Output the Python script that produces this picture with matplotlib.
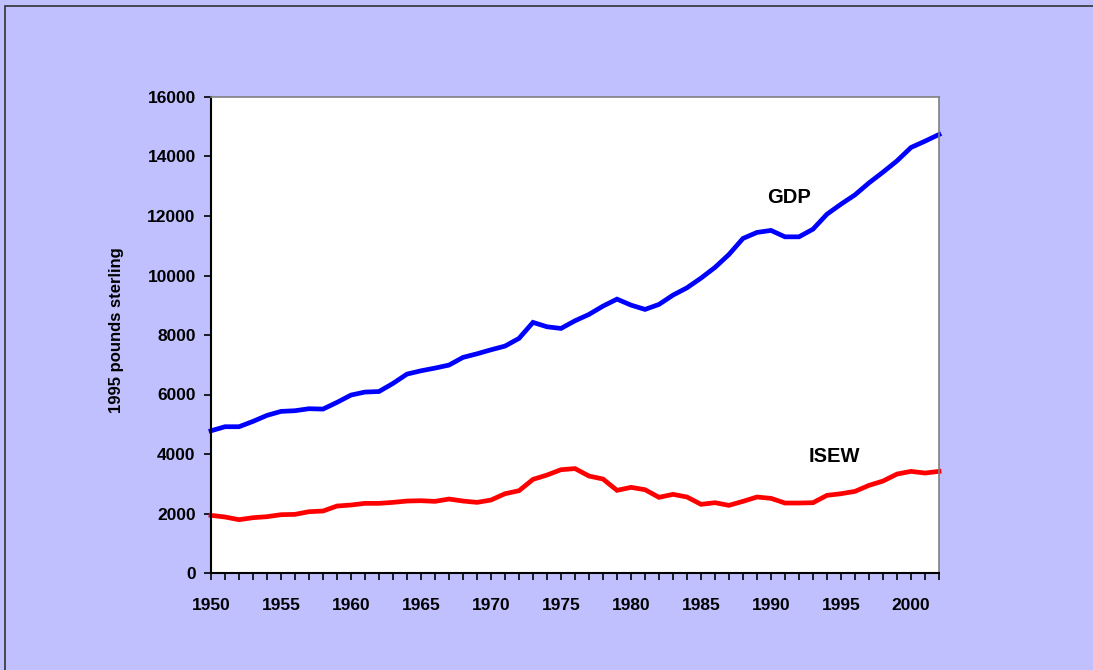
import matplotlib
matplotlib.use("Agg")
import matplotlib.pyplot as plt
from matplotlib.patches import Rectangle

years = list(range(1950, 2003))
gdp = [4780, 4917, 4917, 5096, 5298, 5432, 5455, 5522, 5510, 5735,
       5981, 6082, 6100, 6373, 6686, 6797, 6888, 6989, 7247, 7368,
       7503, 7627, 7886, 8424, 8276, 8221, 8478, 8692, 8971, 9206,
       9005, 8860, 9028, 9341, 9587, 9912, 10272, 10709, 11246, 11448,
       11515, 11300, 11300, 11558, 12062, 12398, 12711, 13114, 13474, 13853,
       14303, 14515, 14740]
isew = [1938, 1882, 1792, 1859, 1893, 1960, 1971, 2061, 2083, 2251,
        2285, 2341, 2341, 2374, 2419, 2430, 2408, 2486, 2419, 2374,
        2453, 2665, 2766, 3147, 3293, 3472, 3510, 3259, 3158, 2778,
        2879, 2800, 2543, 2644, 2554, 2308, 2363, 2274, 2409, 2554,
        2509, 2352, 2352, 2363, 2610, 2665, 2744, 2946, 3091, 3326,
        3416, 3360, 3416]
y_ticks = [0, 2000, 4000, 6000, 8000, 10000, 12000, 14000, 16000]
x_labels = [1950, 1955, 1960, 1965, 1970, 1975, 1980, 1985, 1990, 1995, 2000]

plt.rcParams['font.family'] = ['Liberation Sans', 'DejaVu Sans']
plt.rcParams['font.weight'] = 'bold'

bg = '#C0C0FF'
fig = plt.figure(figsize=(10.93, 6.70), dpi=100, facecolor=bg)
fig.patches.append(Rectangle((5/1093, -0.1), 1.2, 1 - 6/670 + 0.1,
                             transform=fig.transFigure, fill=False,
                             edgecolor='#333333', linewidth=1.2))

ax = fig.add_axes([211/1093, 1 - 573/670, 728/1093, 476/670])
ax.set_facecolor('white')
ax.plot(years, gdp, color='#0000FF', lw=3.4, clip_on=False, solid_joinstyle='miter')
ax.plot(years, isew, color='#FF0000', lw=3.4, clip_on=False, solid_joinstyle='miter')

ax.set_xlim(1950, 2002)
ax.set_ylim(0, 16000)
ax.set_yticks(y_ticks)
ax.set_yticklabels([str(v) for v in y_ticks])
ax.set_xticks(years)
ax.set_xticklabels([str(y) if y in x_labels else '' for y in years])
ax.tick_params(axis='both', direction='out', length=5, width=1.2,
               labelsize=12.5, colors='black')
ax.tick_params(axis='y', pad=6)
ax.tick_params(axis='x', pad=13)
for lab in ax.get_xticklabels() + ax.get_yticklabels():
    lab.set_fontweight('bold')

ax.spines['left'].set_color('black')
ax.spines['bottom'].set_color('black')
ax.spines['left'].set_linewidth(1.5)
ax.spines['bottom'].set_linewidth(1.5)
ax.spines['top'].set_color('#808080')
ax.spines['right'].set_color('#808080')
ax.spines['top'].set_linewidth(1.2)
ax.spines['right'].set_linewidth(1.2)

ax.text(1991.26, 12620, 'GDP', fontsize=14.5, fontweight='bold',
        ha='center', va='center')
ax.text(1994.5, 3914, 'ISEW', fontsize=14.5, fontweight='bold',
        ha='center', va='center')

fig.text(117/1093, 1 - 330/670, '1995 pounds sterling', rotation=90,
         fontsize=12, fontweight='bold', ha='center', va='center')

fig.savefig('out.png', dpi=100, facecolor=bg)
